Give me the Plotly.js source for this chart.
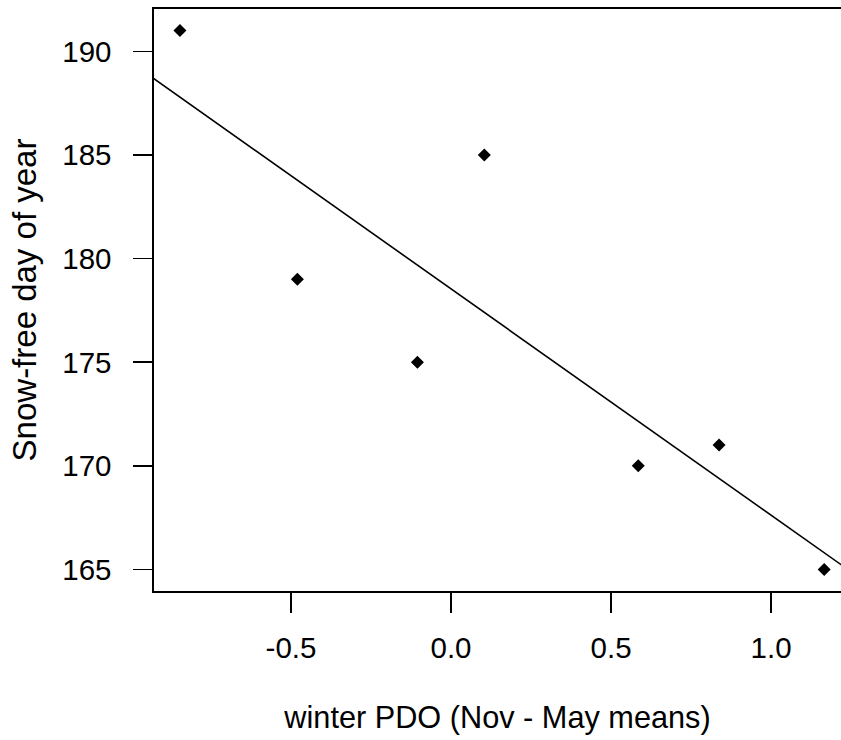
<!DOCTYPE html>
<html>
<head>
<meta charset="utf-8">
<script src="https://cdn.plot.ly/plotly-3.0.1.min.js"></script>
<style>html,body{margin:0;padding:0;background:#fff;overflow:hidden;}</style>
</head>
<body>
<div id="chart" style="width:841px;height:740px;"></div>
<script>
// Data
const pdo = [-0.847, -0.48, -0.105, 0.104, 0.585, 0.8375, 1.166];
const snowFreeDay = [191, 179, 175, 185, 170, 171, 165];
const xTicks = [-0.5, 0.0, 0.5, 1.0];
const xTickLabels = ['-0.5', '0.0', '0.5', '1.0'];
const yTicks = [165, 170, 175, 180, 185, 190];
const yTickLabels = ['165', '170', '175', '180', '185', '190'];
const xRange = [-0.928, 1.2185];
const yRange = [163.96, 192.04];

// least-squares fit line
const n = pdo.length;
const mx = pdo.reduce((a, b) => a + b, 0) / n;
const my = snowFreeDay.reduce((a, b) => a + b, 0) / n;
let sxy = 0, sxx = 0;
for (let i = 0; i < n; i++) { sxy += (pdo[i] - mx) * (snowFreeDay[i] - my); sxx += (pdo[i] - mx) ** 2; }
const slope = sxy / sxx, intercept = my - slope * mx;
const fitX = [xRange[0] - 0.1, xRange[1] + 0.1];
const fitY = fitX.map(x => intercept + slope * x);

const font = 'Liberation Sans, Arial, Helvetica, sans-serif';

const traces = [
  { x: fitX, y: fitY, mode: 'lines', line: { color: '#000', width: 1.6 }, hoverinfo: 'skip', showlegend: false },
  { x: pdo, y: snowFreeDay, mode: 'markers', marker: { symbol: 'diamond', size: 10, color: '#000' }, showlegend: false }
];

const layout = {
  width: 841, height: 740,
  margin: { l: 154, r: 0, t: 9, b: 148.5 },
  paper_bgcolor: '#fff', plot_bgcolor: '#fff',
  font: { family: font, color: '#000' },
  xaxis: {
    range: xRange, tickvals: xTicks, ticktext: xTickLabels,
    showgrid: false, zeroline: false,
    showline: true, linecolor: '#000', linewidth: 1.6, mirror: true,
    ticks: 'outside', ticklen: 20, tickwidth: 1.5, tickcolor: '#000',
    tickfont: { size: 29.5, family: font, color: '#000' },
    ticklabelstandoff: 10,
    title: { text: 'winter PDO (Nov - May means)', font: { size: 30.7, family: font, color: '#000' }, standoff: 43 }
  },
  yaxis: {
    range: yRange, tickvals: yTicks, ticktext: yTickLabels,
    showgrid: false, zeroline: false,
    showline: true, linecolor: '#000', linewidth: 1.6,
    ticks: 'outside', ticklen: 19, tickwidth: 1.5, tickcolor: '#000',
    tickfont: { size: 29.5, family: font, color: '#000' },
    ticklabelstandoff: 16,
    title: { text: 'Snow-free day of year', font: { size: 33, family: font, color: '#000' }, standoff: 16 }
  }
};

Plotly.newPlot('chart', traces, layout, { displayModeBar: false, staticPlot: true });
</script>
</body>
</html>
